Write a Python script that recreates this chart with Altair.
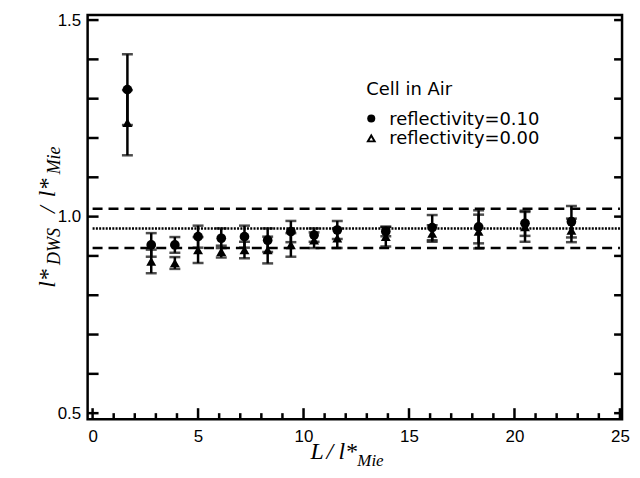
import altair as alt
import pandas as pd

# ---- data ----
x_vals = [1.65, 2.78, 3.9, 5.0, 6.1, 7.2, 8.3, 9.4, 10.5, 11.6, 13.9, 16.1, 18.3, 20.5, 22.7]
circ_y = [1.323, 0.928, 0.928, 0.949, 0.945, 0.949, 0.94, 0.962, 0.953, 0.966, 0.962, 0.972, 0.974, 0.983, 0.987]
circ_err = [0.09, 0.03, 0.02, 0.028, 0.025, 0.028, 0.03, 0.027, 0.017, 0.023, 0.012, 0.032, 0.042, 0.032, 0.04]
tri_y = [1.239, 0.886, 0.882, 0.915, 0.911, 0.915, 0.915, 0.928, 0.94, 0.945, 0.949, 0.957, 0.962, 0.974, 0.965]
tri_err = [0.083, 0.03, 0.015, 0.033, 0.015, 0.021, 0.034, 0.03, 0.02, 0.025, 0.025, 0.021, 0.043, 0.038, 0.03]

center_line = 0.97
band_lines = [0.92, 1.02]
line_x = [0, 25]

x_ticks_label = [0, 5, 10, 15, 20, 25]
x_ticks_minor = [i for i in range(0, 26) if i % 5 != 0]
y_ticks_label = [0.5, 1.0, 1.5]
y_ticks_all = [0.5, 0.6, 0.7, 0.8, 0.9, 1.0, 1.1, 1.2, 1.3, 1.4, 1.5]

W, H = 537, 406

pts = pd.DataFrame({
    "x": x_vals * 2,
    "y": circ_y + tri_y,
    "lo": [v - e for v, e in zip(circ_y, circ_err)] + [v - e for v, e in zip(tri_y, tri_err)],
    "hi": [v + e for v, e in zip(circ_y, circ_err)] + [v + e for v, e in zip(tri_y, tri_err)],
    "series": ["r010"] * len(x_vals) + ["r000"] * len(x_vals),
})
circ_df = pts[pts.series == "r010"]
tri_df = pts[pts.series == "r000"]

xs = alt.Scale(domain=[-0.236, 25.1], nice=False, zero=False)
ys = alt.Scale(domain=[0.4848, 1.5127], nice=False, zero=False)
xaxis = alt.Axis(values=x_ticks_label, title=None, ticks=False, tickSize=0, domain=False, grid=False,
                 labelFont="Liberation Sans", labelFontSize=17, labelColor="black", labelPadding=9)
yaxis = alt.Axis(values=y_ticks_label, format=".1f", title=None, ticks=False, tickSize=0, domain=False,
                 grid=False, labelFont="Liberation Sans", labelFontSize=17, labelColor="black", labelPadding=7)


def X(f):
    return alt.X(f, type="quantitative", scale=xs, axis=xaxis)


def Y(f):
    return alt.Y(f, type="quantitative", scale=ys, axis=yaxis)


one = pd.DataFrame({"a": [0]})

# reference lines
hl = pd.DataFrame({"x": [line_x[0]] * 3, "x2": [line_x[1]] * 3,
                   "y": [center_line] + band_lines, "kind": ["dot", "dash", "dash"]})
dotted = alt.Chart(hl[hl.kind == "dot"]).mark_rule(color="black", strokeWidth=2.5, strokeDash=[2, 1.3]).encode(
    x=X("x"), x2="x2", y=Y("y"))
dashed = alt.Chart(hl[hl.kind == "dash"]).mark_rule(color="black", strokeWidth=2.5, strokeDash=[10, 6]).encode(
    x=X("x"), x2="x2", y=Y("y"))

# error bars
err_rule = alt.Chart(pts).mark_rule(color="black", strokeWidth=2.5).encode(x=X("x"), y=Y("lo"), y2="hi")
cap_lo = alt.Chart(pts).mark_tick(color="black", orient="horizontal", size=11, thickness=2.5).encode(
    x=X("x"), y=Y("lo"))
cap_hi = alt.Chart(pts).mark_tick(color="black", orient="horizontal", size=11, thickness=2.5).encode(
    x=X("x"), y=Y("hi"))

circles = alt.Chart(circ_df).mark_point(shape="circle", filled=True, color="black", size=95, opacity=1).encode(
    x=X("x"), y=Y("y"))
tris = alt.Chart(tri_df).mark_point(shape="triangle-up", filled=True, color="black", size=100, opacity=1).encode(
    x=X("x"), y=Y("y"))

# inward ticks
left_ticks = alt.Chart(pd.DataFrame({"v": y_ticks_all})).mark_rule(color="black", strokeWidth=2.5).encode(
    y=Y("v"), x=alt.value(0), x2=alt.value(11))
right_ticks = alt.Chart(pd.DataFrame({"v": y_ticks_all})).mark_rule(color="black", strokeWidth=2.5).encode(
    y=Y("v"), x=alt.value(W - 8), x2=alt.value(W))
bot_major = alt.Chart(pd.DataFrame({"v": x_ticks_label})).mark_rule(color="black", strokeWidth=2.5).encode(
    x=X("v"), y=alt.value(H - 11), y2=alt.value(H))
bot_minor = alt.Chart(pd.DataFrame({"v": x_ticks_minor})).mark_rule(color="black", strokeWidth=2.5).encode(
    x=X("v"), y=alt.value(H - 6), y2=alt.value(H))


def txt(s, x, y, size, font="Liberation Serif", style="italic", angle=0, weight="normal"):
    kw = dict(text=s, font=font, fontSize=size, fontStyle=style, align="left", baseline="alphabetic",
              color="black", fontWeight=weight)
    if angle:
        kw["angle"] = angle
    return alt.Chart(one).mark_text(**kw).encode(x=alt.value(x), y=alt.value(y))


# axis titles with subscripts
ytitle = [
    txt("l*", -33, 274, 24, angle=270),
    txt("DWS", -28, 251, 18, angle=270),
    txt("/", -33, 199, 24, angle=270),
    txt("l*", -33, 183, 24, angle=270),
    txt("Mie", -28, 160, 18, angle=270),
]
xtitle = [
    txt("L", 224, 446, 24),
    txt("/", 240, 446, 24),
    txt("l*", 252, 446, 24),
    txt("Mie", 271, 453, 17),
]

# legend
legend_title = txt("Cell in Air", 280, 80, 18, font="DejaVu Sans", style="normal")
leg_c_txt = txt("reflectivity=0.10", 303, 110, 18, font="DejaVu Sans", style="normal")
leg_t_txt = txt("reflectivity=0.00", 303, 130, 18, font="DejaVu Sans", style="normal")
leg_c = alt.Chart(one).mark_point(shape="circle", filled=True, color="black", size=65, opacity=1).encode(
    x=alt.value(285), y=alt.value(104))
leg_t = alt.Chart(one).mark_point(shape="triangle-up", filled=False, color="black", size=45, strokeWidth=2,
                                  opacity=1).encode(x=alt.value(285), y=alt.value(124))

chart = alt.layer(
    dashed, dotted, err_rule, cap_lo, cap_hi, circles, tris,
    left_ticks, right_ticks, bot_major, bot_minor,
    *ytitle, *xtitle, legend_title, leg_c_txt, leg_t_txt, leg_c, leg_t,
).properties(
    width=W, height=H,
    autosize=alt.AutoSizeParams(type="none"),
    padding={"left": 80, "top": 6, "right": 10, "bottom": 50},
    background="white",
).configure_view(stroke="black", strokeWidth=2.5)

chart.save("out.html", embed_options={"renderer": "svg", "actions": False})
